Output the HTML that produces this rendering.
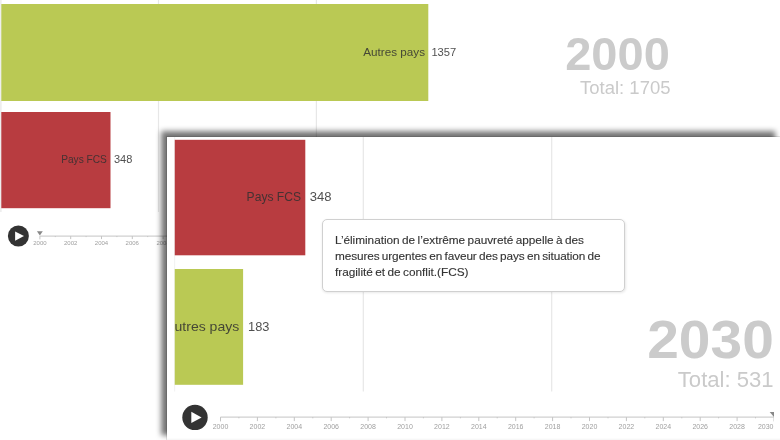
<!DOCTYPE html>
<html lang="fr"><head><meta charset="utf-8"><title>Pays FCS</title>
<style>
html,body{margin:0;padding:0;background:#fff;}
body{width:780px;height:440px;position:relative;overflow:hidden;font-family:"Liberation Sans",sans-serif;}
svg{position:absolute;left:0;top:0;display:block;}
svg text{font-family:"Liberation Sans",sans-serif;}
#panel{position:absolute;left:167px;top:137px;width:615px;height:305px;background:#fff;box-shadow:-1px -1px 0 rgba(0,0,0,0.1),-5.8px -5.8px 5.5px rgba(0,0,0,0.555);}
#tip{position:absolute;left:322px;top:219px;width:301px;height:71px;background:#fff;border:1px solid #d0d0d0;border-radius:5px;box-shadow:0.5px 1px 2.5px rgba(0,0,0,0.09);}
#tip span{position:absolute;left:12px;white-space:nowrap;font-size:11.8px;color:#333;-webkit-text-stroke:0.12px #333;line-height:16px;word-spacing:-0.8px;}
</style></head><body>
<svg width="780" height="440" viewBox="0 0 780 440">
<path d="M0.9 0V212M158.5 0V212M316.4 0V212" stroke="#e7e7e7" stroke-width="1.2"/>
<rect x="1.3" y="4" width="427" height="97" fill="#bac954"/>
<rect x="1.3" y="112" width="109.2" height="96.2" fill="#b83c40"/>
<g fill="#303030" fill-opacity="0.85" font-size="11.6">
<text x="425" y="55.6" text-anchor="end" textLength="61.7" lengthAdjust="spacingAndGlyphs">Autres pays</text>
<text x="431.4" y="55.6" textLength="24.9" lengthAdjust="spacingAndGlyphs">1357</text>
<text x="61.2" y="163.4" textLength="45.7" lengthAdjust="spacingAndGlyphs">Pays FCS</text>
<text x="113.9" y="163.4" textLength="18.4" lengthAdjust="spacingAndGlyphs">348</text>
</g>
<text x="565.2" y="70.1" font-size="46.5" font-weight="bold" fill="#cbcbcb" textLength="104.6" lengthAdjust="spacingAndGlyphs">2000</text>
<text x="580" y="93.5" font-size="19.1" fill="#cacaca" textLength="90.5" lengthAdjust="spacingAndGlyphs">Total: 1705</text>
<circle cx="18.4" cy="236" r="10.5" fill="#333"/>
<path d="M15.1 231.4L24 236.1L15.1 240.8Z" fill="#fff"/>
<path d="M39.9 236.1H178.5" stroke="#c4c4c4" stroke-width="1" fill="none"/>
<path d="M39.9 236.1v3.3 M55.3 236.1v1 M70.7 236.1v3 M86.1 236.1v1 M101.5 236.1v3 M116.9 236.1v1 M132.3 236.1v3 M147.7 236.1v1 M163.1 236.1v3 M178.5 236.1v1" stroke="#c4c4c4" stroke-width="1" fill="none"/>
<g font-size="6" fill="#a0a0a0" text-anchor="middle">
<text x="39.9" y="245.2">2000</text>
<text x="70.7" y="245.2">2002</text>
<text x="101.5" y="245.2">2004</text>
<text x="132.3" y="245.2">2006</text>
<text x="163.1" y="245.2">2008</text>
</g>
<path d="M36.9 231.3h5.9l-2.95 4.1z" fill="#888"/>
</svg>
<div id="panel"></div>
<svg width="780" height="440" viewBox="0 0 780 440">
<defs><clipPath id="cp2"><rect x="174.9" y="300" width="100" height="60"/></clipPath><clipPath id="cp"><rect x="174.5" y="137" width="599.5" height="303"/></clipPath></defs>
<rect x="167" y="438.6" width="613" height="1.4" fill="#f7f7f7"/>
<g clip-path="url(#cp)">
<path d="M174.5 137V391.5M363.3 137V391.5M551.7 137V391.5" stroke="#e7e7e7" stroke-width="1.2"/>
<rect x="174.5" y="139.8" width="130.8" height="115.5" fill="#b83c40"/>
<rect x="174.5" y="269" width="68.6" height="115.8" fill="#bac954"/>
<g fill="#303030" fill-opacity="0.85" font-size="13.6">
<text x="246.6" y="200.7" textLength="54.4" lengthAdjust="spacingAndGlyphs">Pays FCS</text>
<text x="309.8" y="200.7" textLength="21.8" lengthAdjust="spacingAndGlyphs">348</text>
<text x="239.2" y="331" text-anchor="end" textLength="74" lengthAdjust="spacingAndGlyphs" clip-path="url(#cp2)">Autres pays</text>
<text x="248.1" y="331" textLength="21.4" lengthAdjust="spacingAndGlyphs">183</text>
</g>
<text x="647.2" y="358.3" font-size="54" font-weight="bold" fill="#cbcbcb" textLength="126.6" lengthAdjust="spacingAndGlyphs">2030</text>
<text x="677.8" y="386.9" font-size="22.2" fill="#cacaca" textLength="95.8" lengthAdjust="spacingAndGlyphs">Total: 531</text>
<circle cx="195" cy="417.4" r="12.7" fill="#333"/>
<path d="M191.3 411.7L201.6 417.4L191.3 423.1Z" fill="#fff"/>
<path d="M220.5 417.1H774.0" stroke="#c4c4c4" stroke-width="1" fill="none"/>
<path d="M220.5 417.1v4.3 M238.9 417.1v1.2 M257.4 417.1v4 M275.9 417.1v1.2 M294.3 417.1v4 M312.8 417.1v1.2 M331.2 417.1v4 M349.6 417.1v1.2 M368.1 417.1v4 M386.5 417.1v1.2 M405.0 417.1v4 M423.4 417.1v1.2 M441.9 417.1v4 M460.4 417.1v1.2 M478.8 417.1v4 M497.2 417.1v1.2 M515.7 417.1v4 M534.1 417.1v1.2 M552.6 417.1v4 M571.0 417.1v1.2 M589.5 417.1v4 M608.0 417.1v1.2 M626.4 417.1v4 M644.8 417.1v1.2 M663.3 417.1v4 M681.8 417.1v1.2 M700.2 417.1v4 M718.6 417.1v1.2 M737.1 417.1v4 M755.5 417.1v1.2 M774.0 417.1v4.3" stroke="#c4c4c4" stroke-width="1" fill="none"/>
<g font-size="7" fill="#a0a0a0" text-anchor="middle">
<text x="220.5" y="429.1">2000</text>
<text x="257.4" y="429.1">2002</text>
<text x="294.3" y="429.1">2004</text>
<text x="331.2" y="429.1">2006</text>
<text x="368.1" y="429.1">2008</text>
<text x="405.0" y="429.1">2010</text>
<text x="441.9" y="429.1">2012</text>
<text x="478.8" y="429.1">2014</text>
<text x="515.7" y="429.1">2016</text>
<text x="552.6" y="429.1">2018</text>
<text x="589.5" y="429.1">2020</text>
<text x="626.4" y="429.1">2022</text>
<text x="663.3" y="429.1">2024</text>
<text x="700.2" y="429.1">2026</text>
<text x="737.1" y="429.1">2028</text>
<text x="773.5" y="429.1" text-anchor="end">2030</text>
</g>
<path d="M769.7 412h8.6l-4.3 4.9z" fill="#888"/>
</g>
</svg>
<div id="tip">
<span style="top:11.9px;letter-spacing:-0.027px" id="l1">L’élimination de l’extrême pauvreté appelle à des</span>
<span style="top:27.8px;letter-spacing:-0.108px" id="l2">mesures urgentes en faveur des pays en situation de</span>
<span style="top:43.8px;letter-spacing:-0.02px" id="l3">fragilité et de conflit.(FCS)</span>
</div>
</body></html>
